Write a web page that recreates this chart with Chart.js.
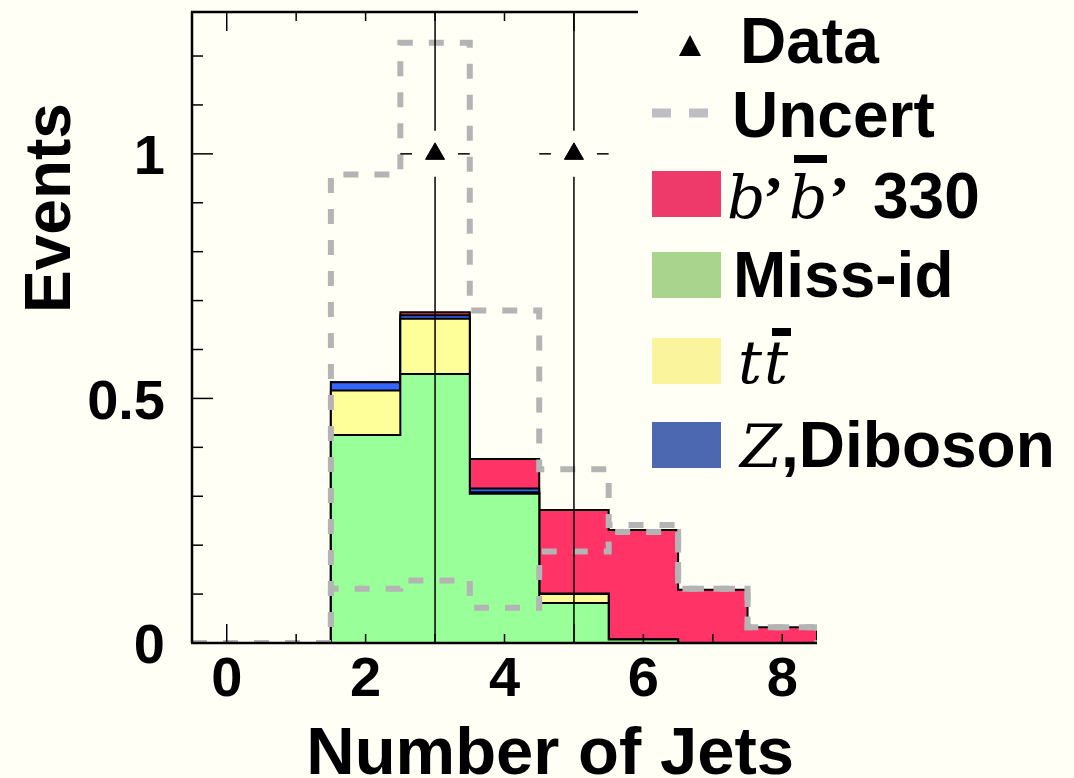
<!DOCTYPE html>
<html lang="en">
<head>
<meta charset="UTF-8">
<title>Number of Jets</title>
<script src="https://cdn.jsdelivr.net/npm/chart.js"></script>
<style>
  html, body { margin: 0; padding: 0; background: #fffff5; }
  canvas { display: block; }
</style>
</head>
<body>
<canvas id="jets" width="1074" height="778"></canvas>
<script>
// bins = number of jets
const nJets    = [0, 1, 2, 3, 4, 5, 6, 7, 8];
const missId   = [0, 0, 0.425, 0.550, 0.305, 0.082, 0.007, 0, 0];
const ttbar    = [0, 0, 0.091, 0.113, 0.003, 0.018, 0, 0, 0];
const zDiboson = [0, 0, 0.017, 0.007, 0.008, 0.001, 0, 0, 0];
const bprime   = [0, 0, 0, 0.006, 0.060, 0.171, 0.224, 0.109, 0.032];
const uncertUp = [0, 0, 0.958, 1.227, 0.680, 0.355, 0.241, 0.111, 0.032];
const uncertLo = [0, 0, 0.111, 0.128, 0.072, 0.187, 0.227, 0.111, 0.032];
// data points
const dataX     = [3, 5];
const dataY     = [1, 1];
const dataErrLo = [1, 1];
const dataErrHi = [2.3, 2.3];
// axis labels
const xTicks = [0, 2, 4, 6, 8];
const yTicks = [0, 0.5, 1];

const bg = '#fffff5';
const sans = '"Liberation Sans", Arial, sans-serif';
const serif = '"DejaVu Serif", "Liberation Serif", serif';

// step outline through the bin edges
function steps(vals) {
    const pts = vals.map((v, i) => ({ x: nJets[i] - 0.5, y: v }));
    const last = nJets.length - 1;
    pts.push({ x: nJets[last] + 0.5, y: vals[last] });
    pts.push({ x: nJets[last] + 0.5, y: 0 });
    return pts;
}

const cum1 = missId;
const cum2 = cum1.map((v, i) => v + ttbar[i]);
const cum3 = cum2.map((v, i) => v + zDiboson[i]);
const cum4 = cum3.map((v, i) => v + bprime[i]);

function layer(label, vals, color, order) {
    return {
        label: label, data: steps(vals), stepped: 'before', fill: 'origin',
        backgroundColor: color, borderColor: '#000', borderWidth: 2,
        pointRadius: 0, order: order
    };
}
function uncLine(label, vals) {
    return {
        label: label, data: steps(vals), stepped: 'before', fill: false,
        borderColor: '#b4b4b4', borderWidth: 6, borderDash: [15, 16],
        pointRadius: 0, order: 1
    };
}

function seg(ctx, x1, y1, x2, y2) {
    ctx.beginPath(); ctx.moveTo(x1, y1); ctx.lineTo(x2, y2); ctx.stroke();
}

// no extra padding from tick labels, the chart area is fixed by layout
function noPad(s) {
    s.paddingTop = 0; s.paddingBottom = 0; s.paddingLeft = 0; s.paddingRight = 0;
}

const decor = {
    id: 'decor',
    beforeDraw(chart) {
        const ctx = chart.ctx;
        ctx.save();
        ctx.fillStyle = bg;
        ctx.fillRect(0, 0, chart.width, chart.height);
        ctx.restore();
    },
    afterDatasetsDraw(chart) {
        const { ctx, chartArea: a } = chart;
        const x = chart.scales.x, y = chart.scales.y;
        ctx.save();
        ctx.strokeStyle = '#000';
        ctx.lineCap = 'butt';

        // data error bars, gap around the marker
        ctx.lineWidth = 1.5;
        const gap = 23;
        dataX.forEach((dx, i) => {
            const px = x.getPixelForValue(dx), py = y.getPixelForValue(dataY[i]);
            const top = Math.max(a.top, y.getPixelForValue(dataY[i] + dataErrHi[i]));
            const bot = Math.min(a.bottom, y.getPixelForValue(dataY[i] - dataErrLo[i]));
            seg(ctx, px, top, px, py - gap);
            seg(ctx, px, py + gap, px, bot);
            seg(ctx, x.getPixelForValue(dx - 0.5), py, px - gap, py);
            seg(ctx, px + gap, py, x.getPixelForValue(dx + 0.5), py);
        });

        // frame
        ctx.lineWidth = 2.5;
        seg(ctx, a.left, a.top, a.left, a.bottom);
        seg(ctx, a.left - 1, a.bottom, a.right, a.bottom);
        seg(ctx, a.left - 1, a.top, a.right, a.top);

        // tick marks (inward)
        ctx.lineWidth = 1.5;
        for (let v = 0; v <= 8; v++) {
            const px = x.getPixelForValue(v);
            const len = v % 5 === 0 ? 19 : 9;
            seg(ctx, px, a.bottom, px, a.bottom - len);
            seg(ctx, px, a.top, px, a.top + len);
        }
        for (let k = 1; k <= 12; k++) {
            const py = y.getPixelForValue(k / 10);
            const len = k % 5 === 0 ? 21 : 11;
            seg(ctx, a.left, py, a.left + len, py);
        }
        ctx.restore();
    },
    afterDraw(chart) {
        const ctx = chart.ctx;
        ctx.save();
        ctx.fillStyle = '#000';

        // axis titles
        ctx.font = 'bold 64px ' + sans;
        ctx.textAlign = 'center';
        ctx.textBaseline = 'alphabetic';
        ctx.save();
        ctx.translate(70, 208);
        ctx.rotate(-Math.PI / 2);
        ctx.fillText('Events', 0, 0);
        ctx.restore();
        ctx.font = 'bold 67px ' + sans;
        ctx.textAlign = 'right';
        ctx.fillText('Number of Jets', 794, 774);

        // legend
        ctx.fillStyle = bg;
        ctx.fillRect(638, 0, chart.width - 638, 500);
        ctx.textAlign = 'left';

        // Data
        ctx.fillStyle = '#000';
        ctx.beginPath();
        ctx.moveTo(690, 35); ctx.lineTo(701, 56); ctx.lineTo(679, 56); ctx.closePath();
        ctx.fill();
        ctx.font = 'bold 64px ' + sans;
        ctx.fillText('Data', 740, 63);

        // Uncert
        ctx.strokeStyle = '#bebec3';
        ctx.lineWidth = 9;
        ctx.setLineDash([19, 18]);
        seg(ctx, 652, 113, 708, 113);
        ctx.setLineDash([]);
        ctx.fillText('Uncert', 732, 137);

        // boxes
        const boxes = [['#ee3a6a', 171], ['#a9d48d', 252], ['#faf49c', 338], ['#4c68b0', 422]];
        boxes.forEach(b => { ctx.fillStyle = b[0]; ctx.fillRect(652, b[1], 69, 46); });
        ctx.fillStyle = '#000';

        // b'b' 330
        ctx.font = 'italic 60px ' + serif;
        ctx.fillText('b', 727, 218);
        ctx.fillText('b', 789, 218);
        ctx.fillRect(794, 155, 33, 8);
        ctx.font = 'bold 62px "Liberation Serif", serif';
        ctx.fillText('\u2019', 763, 218);
        ctx.fillText('\u2019', 829, 218);
        ctx.font = 'bold 64px ' + sans;
        ctx.fillText('330', 873, 218);

        // Miss-id
        ctx.fillText('Miss-id', 733, 297);

        // tt
        ctx.font = 'italic 60px ' + serif;
        ctx.fillText('t', 738, 383);
        ctx.fillText('t', 764, 383);
        ctx.fillRect(772, 328, 19, 8);

        // Z,Diboson
        ctx.fillText('Z', 740, 467);
        ctx.font = 'bold 64px ' + sans;
        ctx.fillText(',Diboson', 781, 467);

        ctx.restore();
    }
};

const ctx = document.getElementById('jets').getContext('2d');
const chart = new Chart(ctx, {
    type: 'line',
    data: {
        datasets: [
            {
                label: 'Data',
                data: dataX.map((v, i) => ({ x: v, y: dataY[i] })),
                showLine: false, pointStyle: 'triangle', pointRadius: 11,
                pointBackgroundColor: '#000', pointBorderColor: '#000', pointBorderWidth: 1,
                order: 0
            },
            uncLine('Uncert up', uncertUp),
            uncLine('Uncert down', uncertLo),
            layer('Miss-id', cum1, '#99ff99', 2),
            layer('ttbar', cum2, '#ffff99', 3),
            layer('Z,Diboson', cum3, '#3366ff', 4),
            layer("b'b' 330", cum4, '#ff3366', 5)
        ]
    },
    options: {
        responsive: false,
        animation: false,
        devicePixelRatio: 1,
        layout: { padding: { top: 7, right: 257, bottom: 0, left: 0 } },
        plugins: { legend: { display: false }, tooltip: { enabled: false } },
        scales: {
            x: {
                type: 'linear', min: -0.5, max: 8.5,
                afterBuildTicks: s => { s.ticks = xTicks.map(v => ({ value: v })); },
                afterFit: s => { s.height = 135; noPad(s); },
                grid: { display: false, drawTicks: false },
                border: { display: false },
                ticks: {
                    font: { family: sans, weight: 'bold', size: 56 }, color: '#000',
                    padding: 4, maxRotation: 0, autoSkip: false
                }
            },
            y: {
                type: 'linear', min: 0, max: 1.29,
                afterBuildTicks: s => { s.ticks = yTicks.map(v => ({ value: v })); },
                afterFit: s => { s.width = 192; noPad(s); },
                grid: { display: false, drawTicks: false },
                border: { display: false },
                ticks: {
                    font: { family: sans, weight: 'bold', size: 56 }, color: '#000',
                    padding: 27, labelOffset: 5,
                    callback: v => String(v)
                }
            }
        }
    },
    plugins: [decor]
});
</script>
</body>
</html>
